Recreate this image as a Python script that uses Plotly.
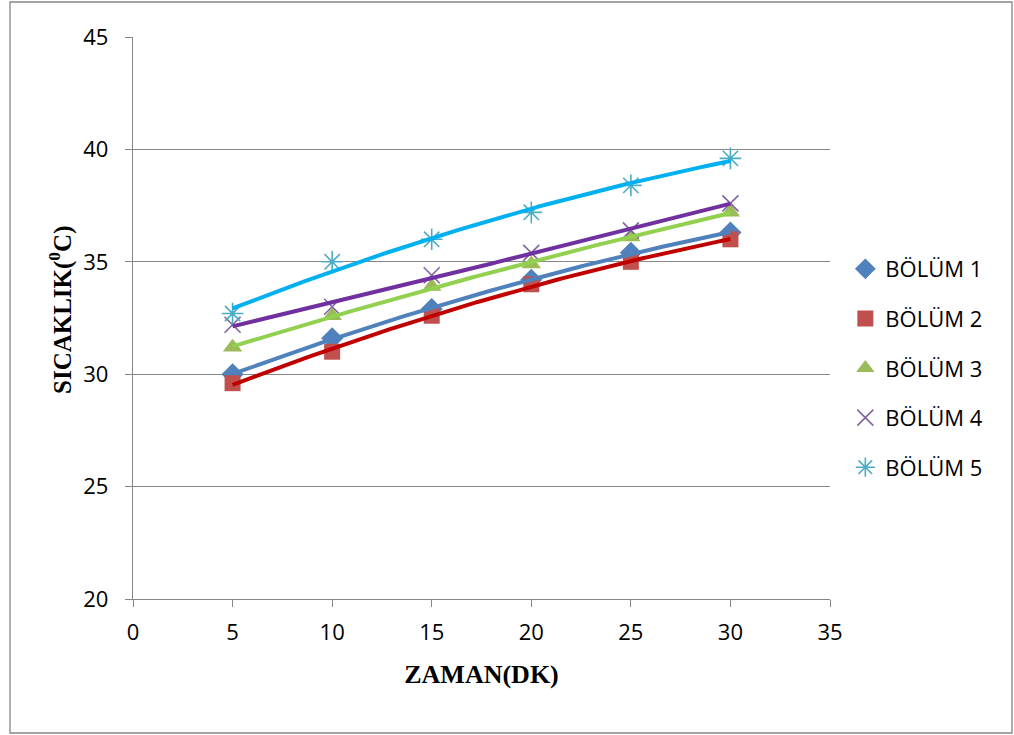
import numpy as np
import plotly.graph_objects as go

# Measurement times (minutes)
zaman = [5, 10, 15, 20, 25, 30]

# Temperature readings (°C) for each section
bolum_1 = [30.0, 31.6, 32.9, 34.2, 35.4, 36.3]
bolum_2 = [29.6, 31.0, 32.6, 34.0, 35.0, 36.0]
bolum_3 = [31.2, 32.6, 33.9, 34.9, 36.1, 37.2]
bolum_4 = [32.2, 33.0, 34.4, 35.4, 36.4, 37.6]
bolum_5 = [32.7, 35.0, 36.0, 37.2, 38.4, 39.6]

series = [
    ("BÖLÜM 1", bolum_1, dict(symbol="diamond", size=17, color="#4F81BD"), "#4F81BD"),
    ("BÖLÜM 2", bolum_2, dict(symbol="square", size=16, color="#C0504D"), "#C00000"),
    ("BÖLÜM 3", bolum_3, dict(symbol="triangle-up", size=17, color="#9BBB59"), "#92D050"),
    ("BÖLÜM 4", bolum_4, dict(symbol="x-thin-open", size=16, color="#8064A2",
                              line=dict(color="#8064A2", width=1.6)), "#7030A0"),
    ("BÖLÜM 5", bolum_5, dict(symbol="asterisk-open", size=18, color="#4BACC6",
                              line=dict(color="#4BACC6", width=1.6)), "#00B0F0"),
]

fig = go.Figure()

xs = np.array(zaman, dtype=float)
x_fit = np.linspace(xs.min(), xs.max(), 120)

for i, (name, vals, marker, trend_color) in enumerate(series):
    fig.add_trace(go.Scatter(
        x=zaman, y=vals, mode="markers", name=name, marker=marker,
        legendgroup=f"g{i}", showlegend=True,
    ))

# Second-order polynomial trendlines fitted to each series
for i, (name, vals, marker, trend_color) in enumerate(series):
    coeffs = np.polyfit(xs, np.array(vals, dtype=float), 2)
    y_fit = np.polyval(coeffs, x_fit)
    fig.add_trace(go.Scatter(
        x=x_fit, y=y_fit, mode="lines", line=dict(color=trend_color, width=4),
        showlegend=False, hoverinfo="skip",
    ))

tick_font = dict(family="Open Sans, Liberation Sans, sans-serif", size=22, color="#000000")
axis_common = dict(
    showline=True, linecolor="#868686", linewidth=1.3,
    ticks="outside", ticklen=7, tickcolor="#868686", tickwidth=1.3,
    tickfont=tick_font, zeroline=False,
)

fig.update_xaxes(
    range=[0, 35], tick0=0, dtick=5, showgrid=False, ticklabelstandoff=6,
    title=dict(text="<b>ZAMAN(DK)</b>", standoff=20,
               font=dict(family="Liberation Serif, serif", size=26, color="#000000")),
    **axis_common,
)
fig.update_yaxes(
    range=[20, 45], tick0=20, dtick=5, showgrid=True, gridcolor="#868686", gridwidth=1.3,
    ticklabelstandoff=12,
    **axis_common,
)

fig.update_layout(
    width=1014, height=735,
    margin=dict(l=133, r=184, t=37, b=136),
    paper_bgcolor="#FFFFFF", plot_bgcolor="#FFFFFF",
    legend=dict(
        x=1.022, y=0.411, xanchor="left", yanchor="middle",
        font=dict(family="Open Sans, Liberation Sans, sans-serif", size=22, color="#000000"),
        tracegroupgap=18, itemwidth=30, bgcolor="rgba(0,0,0,0)",
    ),
    annotations=[dict(
        text="<b>SICAKLIK(<sup>0</sup>C)</b>", textangle=-90,
        xref="paper", yref="paper", x=(60 - 133) / 697, y=(599 - 310) / 562,
        xanchor="center", yanchor="middle", showarrow=False,
        font=dict(family="Liberation Serif, serif", size=25, color="#000000"),
    )],
    shapes=[dict(
        type="rect", xref="paper", yref="paper",
        x0=(10 - 133) / 697, x1=(1012 - 133) / 697,
        y0=(599 - 733) / 562, y1=(599 - 2) / 562,
        line=dict(color="#868686", width=1.3), fillcolor="rgba(0,0,0,0)",
    )],
)

fig.write_html("out.html")
